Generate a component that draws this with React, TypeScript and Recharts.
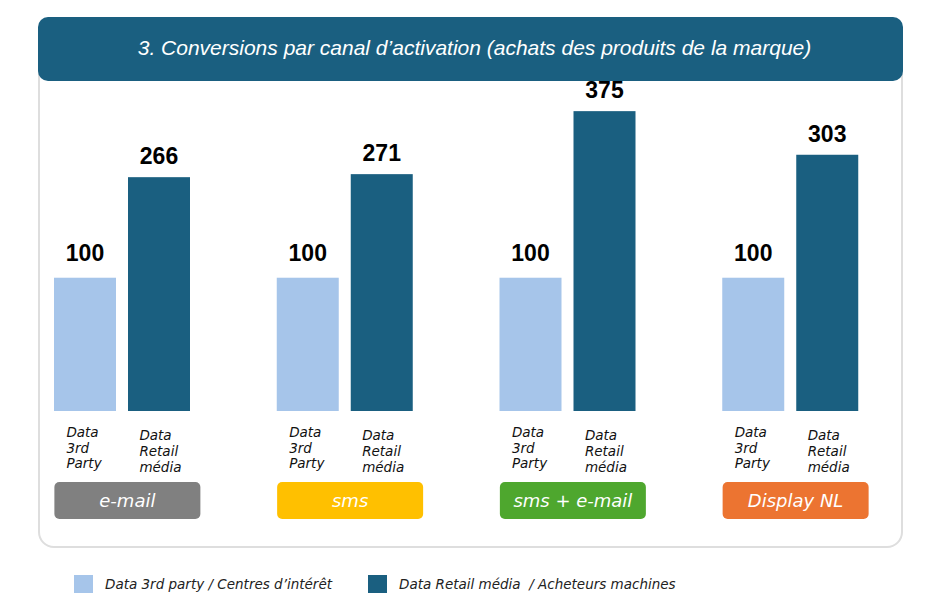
import React from 'react';
import { BarChart, Bar, XAxis, YAxis, LabelList } from 'recharts';

// ---- data ----
const channels = ['e-mail', 'sms', 'sms + e-mail', 'Display NL'];
const thirdPartyValues = [100, 100, 100, 100];
const retailMediaValues = [266, 271, 375, 303];
const thirdPartyLabel = ['Data', '3rd', 'Party'];
const retailMediaLabel = ['Data', 'Retail', 'média'];
const legendLabels = ['Data 3rd party / Centres d\u2019intérêt', 'Data Retail média  / Acheteurs machines'];
const title = '3. Conversions par canal d\u2019activation (achats des produits de la marque)';

// ---- styles ----
const LIGHT = '#A6C5EA';
const DARK = '#1A5F80';
const CHANNEL_COLORS = ['#808080', '#FFC000', '#4EA72E', '#EC7431'];
const SANS = '"DejaVu Sans", sans-serif';
const ARIAL = '"Liberation Sans", Arial, sans-serif';

const data = channels.map((c, i) => ({
  channel: c,
  thirdParty: thirdPartyValues[i],
  retailMedia: retailMediaValues[i],
}));

const FullBar = (props: any) => {
  const { x, y, width, height, fill, background } = props;
  const bottom = background ? background.y + background.height : y + height;
  return <rect x={x} y={y} width={width} height={Math.max(0, bottom - y)} fill={fill} />;
};

const ChannelTick = (props: any) => {
  const { x, y, payload, index } = props;
  const cx = x;
  const y0 = y;
  const color = CHANNEL_COLORS[index % CHANNEL_COLORS.length];
  return (
    <g>
      <text x={cx - 56} y={y0 + 26} fontFamily={SANS} fontStyle="italic" fontSize={13.5} fill="#111">
        {thirdPartyLabel.map((t, i) => (
          <tspan key={i} x={cx - 56} dy={i === 0 ? 0 : 15.5}>{t}</tspan>
        ))}
      </text>
      <text x={cx + 17} y={y0 + 29} fontFamily={SANS} fontStyle="italic" fontSize={13.5} fill="#111">
        {retailMediaLabel.map((t, i) => (
          <tspan key={i} x={cx + 17} dy={i === 0 ? 0 : 16}>{t}</tspan>
        ))}
      </text>
      <rect x={cx - 68} y={y0 + 71} width={146} height={37} rx={5} fill={color} />
      <text
        x={cx + 5}
        y={y0 + 71 + 18.5}
        textAnchor="middle"
        dominantBaseline="central"
        fontFamily={SANS}
        fontStyle="italic"
        fontSize={18}
        fill="#fff"
      >
        {payload.value}
      </text>
    </g>
  );
};

export default function App() {
  return (
    <div style={{ position: 'absolute', left: 0, top: 0, width: 947, height: 607, background: '#fff', overflow: 'hidden' }}>
      <div
        style={{
          position: 'absolute', left: 38, top: 17, width: 865, height: 531,
          border: '2px solid #DEDEDE', borderRadius: 16, boxSizing: 'border-box', background: '#fff',
        }}
      />
      <div
        style={{
          position: 'absolute', left: 38, top: 17, width: 865, height: 64, background: DARK,
          borderRadius: 10, color: '#fff', fontFamily: ARIAL, fontStyle: 'italic', fontSize: 21,
          display: 'flex', alignItems: 'center', justifyContent: 'center', paddingLeft: 8, paddingBottom: 2, boxSizing: 'border-box',
        }}
      >
        {title}
      </div>
      <div style={{ position: 'absolute', left: 0, top: 0 }}>
        <BarChart
          width={947}
          height={560}
          data={data}
          margin={{ top: 96, right: 45, bottom: 0, left: 11 }}
          barSize={62}
          barGap={12}
        >
          <YAxis hide domain={[-120, 400]} type="number" allowDataOverflow />
          <XAxis
            dataKey="channel"
            height={149}
            axisLine={false}
            tickLine={false}
            tickSize={0}
            tickMargin={0}
            interval={0}
            tick={<ChannelTick />}
          />
          <Bar dataKey="thirdParty" fill={LIGHT} shape={<FullBar />} isAnimationActive={false}>
            <LabelList dataKey="thirdParty" position="top" offset={17} fill="#000" fontSize={23} fontWeight="bold" fontFamily={ARIAL} />
          </Bar>
          <Bar dataKey="retailMedia" fill={DARK} shape={<FullBar />} isAnimationActive={false}>
            <LabelList dataKey="retailMedia" position="top" offset={13} fill="#000" fontSize={23} fontWeight="bold" fontFamily={ARIAL} />
          </Bar>
        </BarChart>
      </div>
      {legendLabels.map((label, i) => (
        <div key={i} style={{ position: 'absolute', left: i === 0 ? 74 : 368, top: 575, display: 'flex', alignItems: 'center' }}>
          <div style={{ width: 19, height: 18, background: i === 0 ? LIGHT : DARK }} />
          <div style={{ marginLeft: 12, fontFamily: SANS, fontStyle: 'italic', fontSize: 13.5, color: '#222', whiteSpace: 'pre' }}>
            {label}
          </div>
        </div>
      ))}
    </div>
  );
}
